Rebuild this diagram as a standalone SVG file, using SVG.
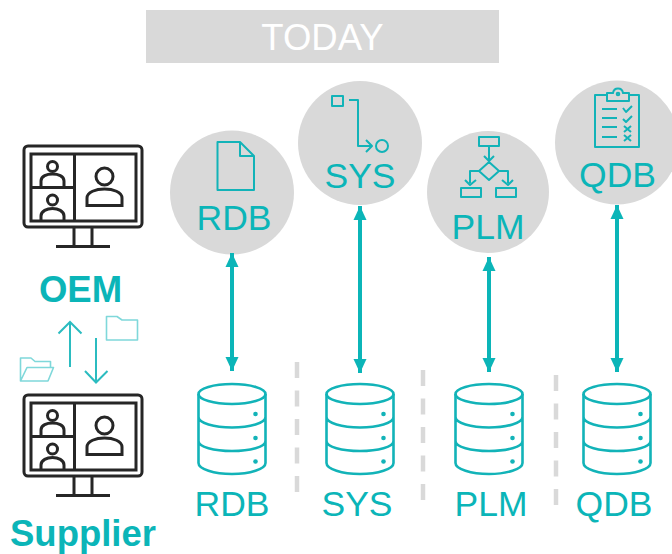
<svg xmlns="http://www.w3.org/2000/svg" width="672" height="554" viewBox="0 0 672 554">
<style>
text{font-family:"Liberation Sans",Arial,sans-serif;text-anchor:middle}
.lbl{font-size:35.5px;fill:#0bb5b8}
.role{font-size:36.500px;font-weight:bold;fill:#0bb5b8}
.bub{fill:#d9d9d9}
.ic{fill:none;stroke:#12b3b8;stroke-width:2;stroke-linejoin:round}
.dk{fill:none;stroke:#262626;stroke-width:3}
.thin{fill:none;stroke:#2bbcc0;stroke-width:2}
.lt{fill:none;stroke:#7fd8da;stroke-width:1.6;stroke-linejoin:round}
.link{stroke:#0bb5b8;stroke-width:4;fill:none;marker-start:url(#head);marker-end:url(#head)}
.dash{stroke:#d9d9d9;stroke-width:4.5;stroke-dasharray:16 12.5;fill:none}
.db{fill:none;stroke:#12b3b8;stroke-width:2.6}
</style>
<defs>
<marker id="head" markerUnits="userSpaceOnUse" markerWidth="16" markerHeight="16" refX="14" refY="8" orient="auto-start-reverse"><path d="M0 1.500L14 8L0 14.500Z" fill="#0bb5b8"/></marker>
<g id="monitor">
<rect class="dk" x="24" y="146" width="118" height="81" rx="4"/>
<rect class="dk" x="31" y="154" width="105" height="67"/>
<path class="dk" d="M74.500 154V221M31 187.500H74.500M74 227V246M92 227V246M56 246.500H110"/>
<circle class="dk" cx="52.500" cy="166.500" r="5"/>
<path class="dk" d="M41 186V181C41 176 47 174 52.500 174C58 174 64 176 64 181V186"/>
<circle class="dk" cx="52.500" cy="200" r="5"/>
<path class="dk" d="M41 220V216C41 211 47 208.500 52.500 208.500C58 208.500 64 211 64 216V220"/>
<circle class="dk" cx="104.500" cy="176.500" r="8.500"/>
<path class="dk" d="M87 205.500V198C87 192 96 189 104.500 189C113 189 122 192 122 198V205.500Z"/>
</g>
<g id="cyl">
<ellipse class="db" cx="0" cy="394" rx="33.500" ry="10"/>
<path class="db" d="M-33.500 394V463C-33.500 469 -18 474 0 474C18 474 33.500 469 33.500 463V394M-33.500 417C-33.500 423 -18 427.500 0 427.500C18 427.500 33.500 423 33.500 417M-33.500 441C-33.500 447 -18 451 0 451C18 451 33.500 447 33.500 441"/>
<circle cx="23.500" cy="414" r="2.300" fill="#12b3b8"/><circle cx="23.500" cy="438" r="2.300" fill="#12b3b8"/><circle cx="23.500" cy="461.500" r="2.300" fill="#12b3b8"/>
</g>
</defs>
<rect width="672" height="554" fill="#fff"/>
<g id="title"><rect x="146" y="10" width="353" height="53" fill="#d9d9d9"/><text x="322.500" y="50" font-size="36.500" fill="#fff">TODAY</text></g>
<g id="oem"><use href="#monitor"/><text class="role" x="80.500" y="302">OEM</text></g>
<g id="supplier"><use href="#monitor" y="249"/><text class="role" x="83" y="546">Supplier</text></g>
<g id="exchange">
<path class="thin" d="M70 367V323M58.500 333.500L70 322L81.500 333.500M96 338V382M85 371L96 382.500L107.500 371"/>
<path class="lt" d="M106.500 340V316.500H117L122 320H137.500V340Z"/>
<path class="lt" d="M20.500 381V358H31L35 361.500H50.500V367M20.500 381L27 367.500H53.500L48 381Z"/>
</g>
<g id="rdb-app"><circle class="bub" cx="232" cy="192.500" r="62"/>
<path class="ic" d="M217.500 142H240L254 156V190H217.500ZM240 142V156H254"/><text class="lbl" x="234" y="230">RDB</text></g>
<g id="sys-app"><circle class="bub" cx="360" cy="143" r="62"/>
<path class="ic" d="M332 96H343V106H332ZM349 100H358V146H372M366 140L372 146L366 152"/><circle class="ic" cx="382" cy="146" r="6"/><text class="lbl" x="360" y="188">SYS</text></g>
<g id="plm-app"><circle class="bub" cx="488" cy="192" r="61"/>
<path class="ic" d="M479 137H499V146H479ZM489 146V160M484 156L489 161L494 156M489 162L499 171L489 180L479 171ZM479 171H470V183M465 180L470 185L476 180M499 171H508V183M502 180L508 185L513 180M461 188H481V197H461ZM496 188H516V197H496Z"/>
<text class="lbl" x="488" y="239">PLM</text></g>
<g id="qdb-app"><circle class="bub" cx="617" cy="142.500" r="62"/>
<path class="ic" d="M607 95H595V147H639V95H629M607 101V93H613C614 87 622 87 623 93H629V101Z"/><circle class="ic" cx="618" cy="94" r="1.300"/>
<path class="ic" d="M602 109H617M602 118H617M602 127H617M602 137H617M623 108L626 112L632 106M623 119L626 122L632 116M624 126L631 132M631 126L624 132M624 135L631 141M631 135L624 141"/><text class="lbl" x="617.500" y="187">QDB</text></g>
<g id="rdb-db"><use href="#cyl" x="232"/><text class="lbl" x="232" y="516">RDB</text></g>
<g id="sys-db"><use href="#cyl" x="360"/><text class="lbl" x="357" y="516">SYS</text></g>
<g id="plm-db"><use href="#cyl" x="489"/><text class="lbl" x="491" y="516">PLM</text></g>
<g id="qdb-db"><use href="#cyl" x="617"/><text class="lbl" x="614" y="516">QDB</text></g>
<g id="connectors">
<path class="link" d="M232 253V371"/>
<path class="link" d="M360 206V373"/>
<path class="link" d="M489 257V372"/>
<path class="link" d="M617 205V372"/>
<path class="dash" d="M297 362V492"/>
<path class="dash" d="M423 370V500"/>
<path class="dash" d="M556 375V505"/>
</g>
</svg>
